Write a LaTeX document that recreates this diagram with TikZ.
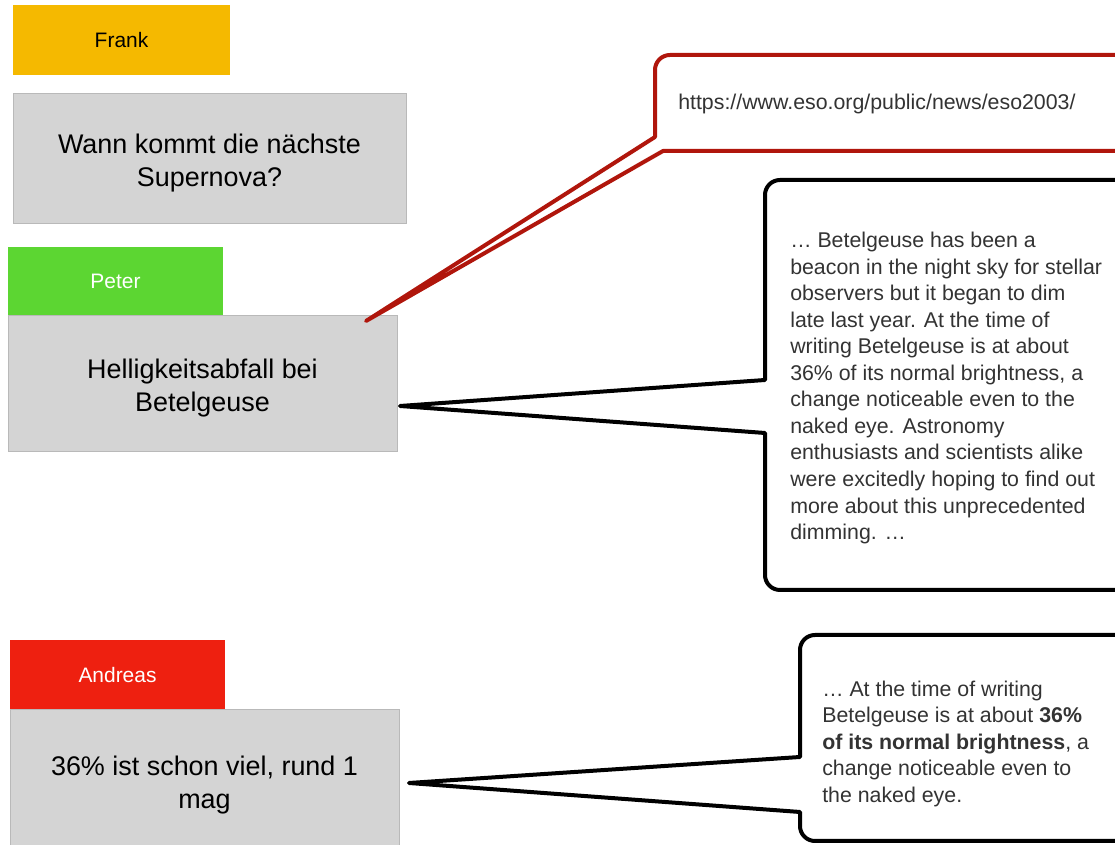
\documentclass[tikz,border=0pt]{standalone}
\usepackage{fontspec}
\setmainfont{Liberation Sans}

\definecolor{frankorange}{RGB}{245,185,0}
\definecolor{petergreen}{RGB}{92,214,50}
\definecolor{andreasred}{RGB}{238,32,16}
\definecolor{topicgray}{RGB}{212,212,212}
\definecolor{topicline}{RGB}{185,185,185}
\definecolor{linkred}{RGB}{176,22,12}
\definecolor{quotegray}{RGB}{51,51,51}

\begin{document}
\begin{tikzpicture}[x=0.75pt, y=0.75pt,
    speaker/.style={minimum width=161.25pt, minimum height=52.5pt, inner sep=0pt,
      font=\fontsize{15.7}{18}\selectfont},
    topic/.style={fill=topicgray, draw=topicline, line width=0.75pt, inner sep=0pt,
      minimum width=291.75pt, align=center, text=black, text height=45pt,
      font=\fontsize{20.2}{24.75}\selectfont},
    bubble/.style={line width=3pt, fill=white, line join=round},
    quote/.style={inner sep=0pt, anchor=north west, align=left, text=quotegray,
      font=\fontsize{16}{19.9}\selectfont}]

    \useasboundingbox (0,0) rectangle (1115,845);
    \clip (0,0) rectangle (1115,845);

    % Frank and his question
    \node[speaker, fill=frankorange, minimum width=162.75pt] (frank) at (121.5,805) {Frank};
    \node[topic, minimum width=294.75pt, minimum height=97.5pt] (supernova) at (209.5,686)
        {Wann kommt die nächste\\Supernova?};

    % Peter
    \node[speaker, fill=petergreen, text=white, minimum height=51.75pt] (peter) at (115.5,563.5) {Peter};
    \node[topic, minimum height=102pt] (dimming) at (202.5,461)
        {Helligkeitsabfall bei\\Betelgeuse};

    % Andreas
    \node[speaker, fill=andreasred, text=white] (andreas) at (117.5,170) {Andreas};
    \node[topic, minimum height=106.5pt] (magnitude) at (204.5,64)
        {36\% ist schon viel, rund 1\\mag};

    % Link bubble (source)
    \coordinate (linktip) at (366,524);
    \draw[bubble, draw=linkred] (663,694) -- (1140,694) -- (1140,790) -- (670,790)
        arc[start angle=90, end angle=180, radius=15] -- (655,708) -- (linktip) -- cycle;
    \node[inner sep=0pt, anchor=base west, text=quotegray, font=\fontsize{16}{19.9}\selectfont]
        (link) at (678,735) {https://www.eso.org/public/news/eso2003/};

    % Quote bubble for Peter
    \coordinate (quotetipA) at (400,439);
    \draw[bubble] (765,465) -- (765,650) arc[start angle=180, end angle=90, radius=15]
        -- (1140,665) -- (1140,255) -- (780,255) arc[start angle=270, end angle=180, radius=15]
        -- (765,412) -- (quotetipA) -- cycle;
    \node[quote] (quoteA) at (790,613) {… Betelgeuse has been a\\
        beacon in the night sky for stellar\\
        observers but it began to dim\\
        late last year. At the time of\\
        writing Betelgeuse is at about\\
        36\% of its normal brightness, a\\
        change noticeable even to the\\
        naked eye. Astronomy\\
        enthusiasts and scientists alike\\
        were excitedly hoping to find out\\
        more about this unprecedented\\
        dimming. …};

    % Quote bubble for Andreas
    \coordinate (quotetipB) at (409,62);
    \draw[bubble] (800,88) -- (800,195) arc[start angle=180, end angle=90, radius=15]
        -- (1140,210) -- (1140,4) -- (815,4) arc[start angle=270, end angle=180, radius=15]
        -- (800,33) -- (quotetipB) -- cycle;
    \node[quote] (quoteB) at (822,164.5) {… At the time of writing\\
        Betelgeuse is at about \textbf{36\%}\\
        \textbf{of its normal brightness}, a\\
        change noticeable even to\\
        the naked eye.};

\end{tikzpicture}
\end{document}
